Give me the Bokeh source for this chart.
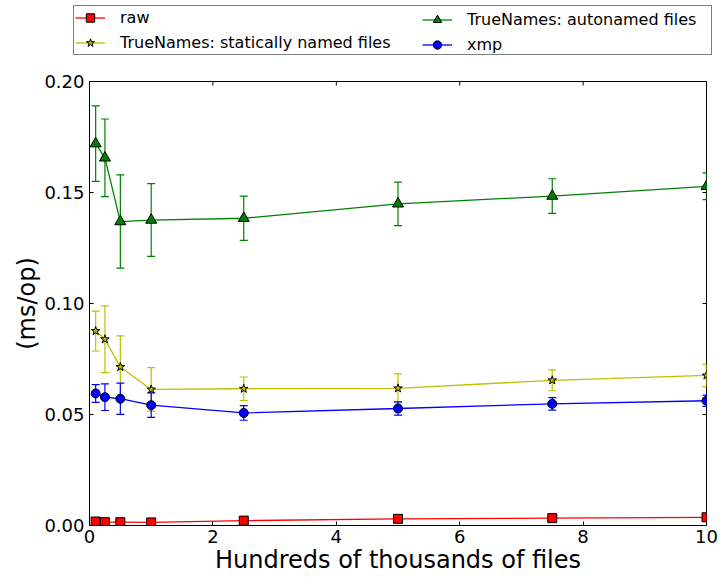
import math
from bokeh.plotting import figure
from bokeh.models import (ColumnDataSource, Whisker, TeeHead, Legend, LegendItem,
                          LinearAxis, FixedTicker, PrintfTickFormatter, Range1d)
from bokeh.embed import file_html
from bokeh.resources import INLINE

# ---- data ----
files = [0.1, 0.25, 0.5, 1.0, 2.5, 5.0, 7.5, 10.0]

raw = [0.0018, 0.0015, 0.0015, 0.0014, 0.0022, 0.0030, 0.0033, 0.0037]
raw_err = [0.0003, 0.0003, 0.0003, 0.0003, 0.0003, 0.0003, 0.0003, 0.0003]

static_names = [0.0876, 0.0839, 0.0714, 0.0613, 0.0616, 0.0618, 0.0654, 0.0676]
static_err = [0.0090, 0.0150, 0.0140, 0.0098, 0.0053, 0.0065, 0.0047, 0.0050]

auto_names = [0.1720, 0.1656, 0.1369, 0.1376, 0.1384, 0.1449, 0.1484, 0.1528]
auto_err = [0.0170, 0.0175, 0.0210, 0.0164, 0.0100, 0.0098, 0.0078, 0.0060]

xmp = [0.0595, 0.0578, 0.0571, 0.0542, 0.0507, 0.0527, 0.0548, 0.0562]
xmp_err = [0.0040, 0.0060, 0.0070, 0.0055, 0.0033, 0.0030, 0.0028, 0.0025]

series_names = ["raw", "TrueNames: statically named files",
                "TrueNames: autonamed files", "xmp"]
x_ticks = [0, 2, 4, 6, 8, 10]
y_ticks = [0.0, 0.05, 0.10, 0.15, 0.20]

FONT = "DejaVu Sans"

# ---------------- main plot ----------------
p = figure(width=720, height=506, output_backend="svg", toolbar_location=None,
           x_range=Range1d(0, 10), y_range=Range1d(0, 0.2),
           x_axis_location=None, y_axis_location=None)
p.min_border_left = 89
p.min_border_right = 14
p.min_border_top = 10
p.min_border_bottom = 52
p.xgrid.visible = False
p.ygrid.visible = False
p.outline_line_color = "black"
p.outline_line_width = 1
p.outline_line_alpha = 1
p.background_fill_color = "white"
p.border_fill_color = "white"

def style_axis(ax, ticks):
    ax.ticker = FixedTicker(ticks=ticks)
    ax.major_tick_in = 4
    ax.major_tick_out = 0
    ax.minor_tick_in = 0
    ax.minor_tick_out = 0
    ax.axis_line_color = "black"
    ax.major_tick_line_color = "black"
    ax.major_label_text_font = FONT
    ax.major_label_text_color = "black"
    ax.major_label_text_font_size = "18px"
    ax.axis_label_text_font = FONT
    ax.axis_label_text_font_size = "24px"
    ax.axis_label_text_font_style = "normal"
    ax.axis_label_text_color = "black"

xb = LinearAxis(axis_label="Hundreds of thousands of files")
style_axis(xb, x_ticks)
xb.major_label_standoff = 4
xb.axis_label_standoff = 0
p.add_layout(xb, "below")

yl = LinearAxis(axis_label="(ms/op)")
style_axis(yl, y_ticks)
yl.formatter = PrintfTickFormatter(format="%.2f")
yl.major_label_standoff = 5
yl.axis_label_standoff = 0
p.add_layout(yl, "left")

# inward tick marks on the top and right spines
p.ray(x=x_ticks, y=[y_ticks[-1]] * len(x_ticks), length=4, length_units="screen",
      angle=-math.pi / 2, line_color="black", line_width=1)
p.ray(x=[x_ticks[-1]] * len(y_ticks), y=y_ticks, length=4, length_units="screen",
      angle=math.pi, line_color="black", line_width=1)

specs = [
    (raw, raw_err, "#ff0000", "square", 9, "#ff0000"),
    (static_names, static_err, "#bfbf00", "star", 9, "#bfbf00"),
    (auto_names, auto_err, "#008000", "triangle", 11, "#008000"),
    (xmp, xmp_err, "#0000ff", "circle", 9, "#0000ff"),
]

# ---------------- legend strip ----------------
lg = figure(width=720, height=71, output_backend="svg", toolbar_location=None,
            x_range=Range1d(-2, -1), y_range=Range1d(-2, -1),
            x_axis_location=None, y_axis_location=None)
lg.min_border = 0
lg.xgrid.visible = False
lg.ygrid.visible = False
lg.outline_line_color = None
lg.background_fill_color = "white"
lg.border_fill_color = "white"

items = []
for name, (vals, errs, color, marker, size, fill) in zip(series_names, specs):
    src = ColumnDataSource(dict(
        x=files, y=vals,
        upper=[v + e for v, e in zip(vals, errs)],
        lower=[v - e for v, e in zip(vals, errs)],
    ))
    w = Whisker(source=src, base="x", upper="upper", lower="lower",
                line_color=color, line_width=1.2,
                upper_head=TeeHead(size=8, line_color=color, line_width=1.2),
                lower_head=TeeHead(size=8, line_color=color, line_width=1.2))
    p.add_layout(w)
    p.line("x", "y", source=src, line_color=color, line_width=1.3)
    p.scatter("x", "y", source=src, marker=marker, size=size,
              fill_color=fill, line_color="black", line_width=1)

    lsrc = ColumnDataSource(dict(x=files, y=vals))
    ln = lg.line("x", "y", source=lsrc, line_color=color, line_width=1.3)
    sc = lg.scatter("x", "y", source=lsrc, marker=marker, size=size,
                    fill_color=fill, line_color="black", line_width=1)
    items.append(LegendItem(label=name, renderers=[ln, sc]))

def make_legend(its, loc, label_width, framed):
    L = Legend(items=its, location=loc, orientation="vertical")
    L.label_text_font = FONT
    L.label_text_font_size = "16px"
    L.label_text_color = "black"
    L.glyph_width = 30
    L.glyph_height = 21
    L.label_standoff = 15
    L.label_width = label_width
    L.spacing = 4
    L.padding = 1
    L.margin = 0
    L.click_policy = "none"
    if framed:
        L.border_line_color = "black"
        L.border_line_width = 1
        L.background_fill_color = "white"
        L.background_fill_alpha = 1
    else:
        L.border_line_color = None
        L.background_fill_alpha = 0
    return L

lg.add_layout(make_legend(items[:2], (73, 16), 590, True), "center")
lg.add_layout(make_legend(items[2:], (422, 16), 20, False), "center")

open("out.html", "w").write(file_html([lg, p], INLINE))
